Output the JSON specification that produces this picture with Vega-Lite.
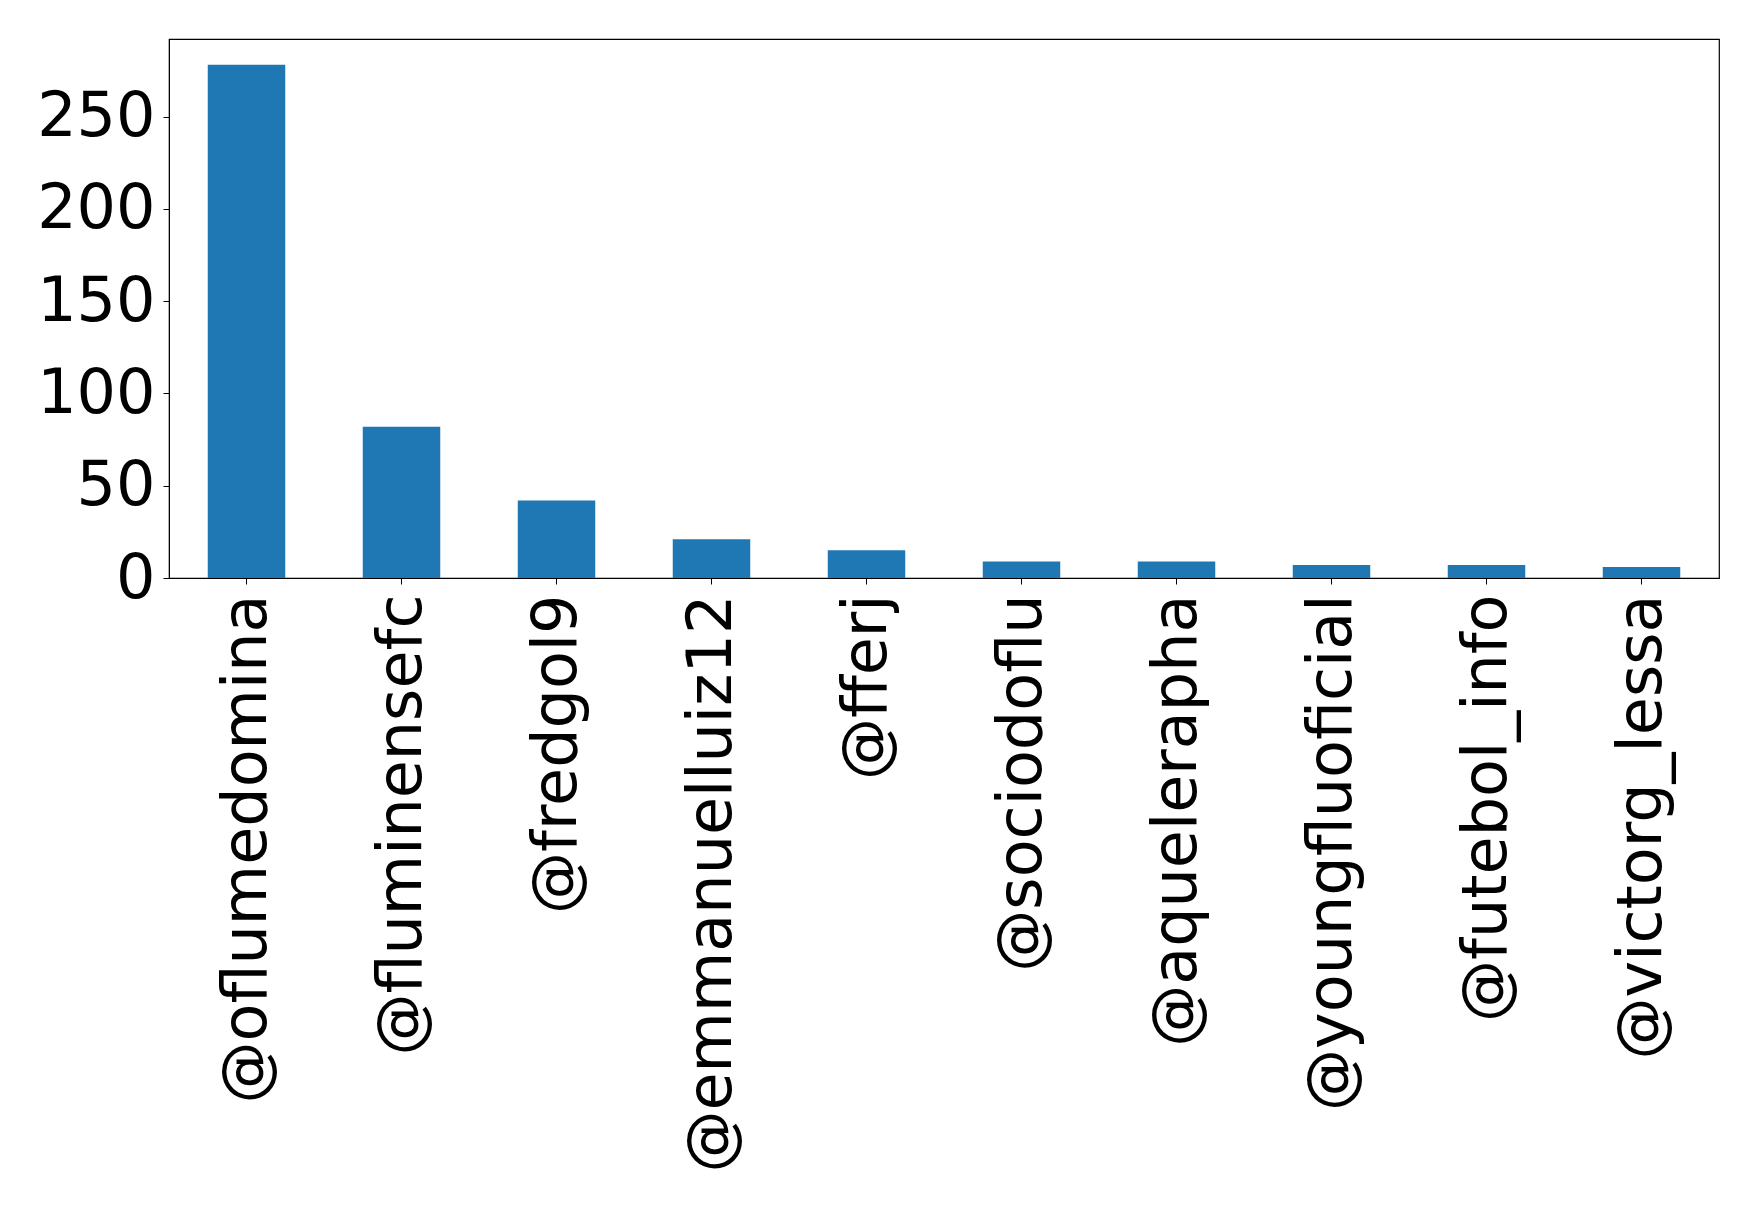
{
  "$schema": "https://vega.github.io/schema/vega-lite/v6.json",
  "width": 1550,
  "height": 539,
  "autosize": {"type": "none"},
  "padding": {"left": 169, "top": 39, "right": 39, "bottom": 632},
  "background": "white",
  "data": {
    "values": [
      {"user": "@oflumedomina", "count": 278},
      {"user": "@fluminensefc", "count": 82},
      {"user": "@fredgol9", "count": 42},
      {"user": "@emmanuelluiz12", "count": 21},
      {"user": "@fferj", "count": 15},
      {"user": "@sociodoflu", "count": 9},
      {"user": "@aquelerapha", "count": 9},
      {"user": "@youngfluoficial", "count": 7},
      {"user": "@futebol_info", "count": 7},
      {"user": "@victorg_lessa", "count": 6}
    ]
  },
  "mark": {"type": "bar", "color": "#1f77b4"},
  "encoding": {
    "x": {
      "field": "user",
      "type": "nominal",
      "sort": null,
      "title": null,
      "scale": {"paddingInner": 0.5, "paddingOuter": 0.25},
      "axis": {
        "labelAngle": -90,
        "labelAlign": "right",
        "labelBaseline": "middle",
        "labelFont": "DejaVu Sans",
        "labelFontSize": 62,
        "labelColor": "black",
        "labelPadding": 10,
        "labelLimit": 0,
        "tickSize": 6,
        "tickColor": "black",
        "domainColor": "black"
      }
    },
    "y": {
      "field": "count",
      "type": "quantitative",
      "title": null,
      "scale": {"domain": [0, 292], "nice": false},
      "axis": {
        "values": [0, 50, 100, 150, 200, 250],
        "grid": false,
        "labelFont": "DejaVu Sans",
        "labelFontSize": 62,
        "labelColor": "black",
        "labelPadding": 8,
        "tickSize": 6,
        "tickColor": "black",
        "domainColor": "black"
      }
    }
  },
  "config": {"view": {"stroke": "black", "strokeWidth": 1.2}}
}
